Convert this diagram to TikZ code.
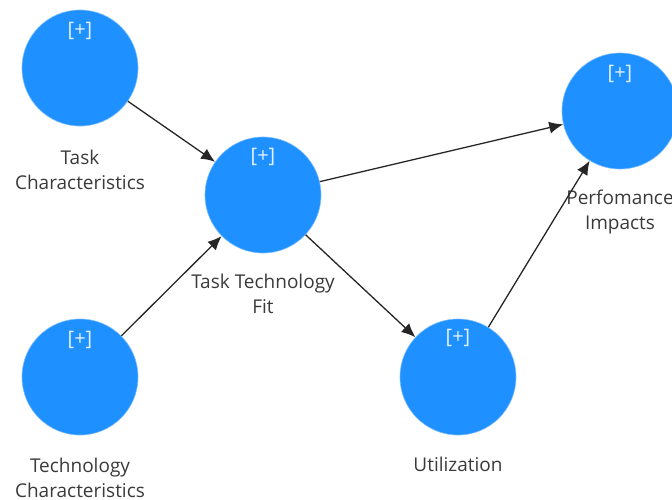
\documentclass[tikz,border=0pt]{standalone}
\usepackage{fontspec}
\setmainfont{Open Sans}
\usetikzlibrary{arrows.meta}
\usetikzlibrary{positioning}

\definecolor{lvblue}{HTML}{1E90FF}
\definecolor{lvtext}{HTML}{3A3A3A}

\tikzset{
  lv/.style={circle, fill=lvblue, draw=lvblue!60, line width=0.6pt, minimum size=116pt, inner sep=0pt},
  plus/.style={text=white!88!lvblue, font=\fontsize{20}{22}\selectfont},
  lbl/.style={text=lvtext, align=center, font=\fontsize{19}{25}\selectfont},
  path/.style={-{Latex[length=14pt,width=12pt]}, line width=1.3pt, black!85}
}

\begin{document}
\begin{tikzpicture}[x=1pt, y=-1pt]

	\useasboundingbox (0, 0) rectangle (672, 499);

	% constructs
	\node[lv] (task) at (80, 68) {};
	\node[lv] (tech) at (80, 377) {};
	\node[lv] (ttf) at (263, 195) {};
	\node[lv] (util) at (458, 377) {};
	\node[lv] (perf) at (620, 111) {};

	\node[plus] at (80, 31) {[+]};
	\node[plus] at (80, 340) {[+]};
	\node[plus] at (263, 157) {[+]};
	\node[plus] at (458, 338) {[+]};
	\node[plus] at (620, 74) {[+]};

	% labels
	\node[lbl] (taskl) at (80, 170) {Task\\Characteristics};
	\node[lbl] (techl) at (80, 478) {Technology\\Characteristics};
	\node[lbl] (ttfl) at (263, 294) {Task Technology\\Fit};
	\node[lbl] (utill) at (458, 464) {Utilization};
	\node[lbl] (perfl) at (620, 212) {Perfomance\\Impacts};

	% paths
	\draw[path] (task) -- (ttf);
	\draw[path] (tech) -- (ttf);
	\draw[path] (ttf) -- (perf);
	\draw[path] (ttf) -- (util);
	\draw[path] (util) -- (perf);

\end{tikzpicture}
\end{document}
